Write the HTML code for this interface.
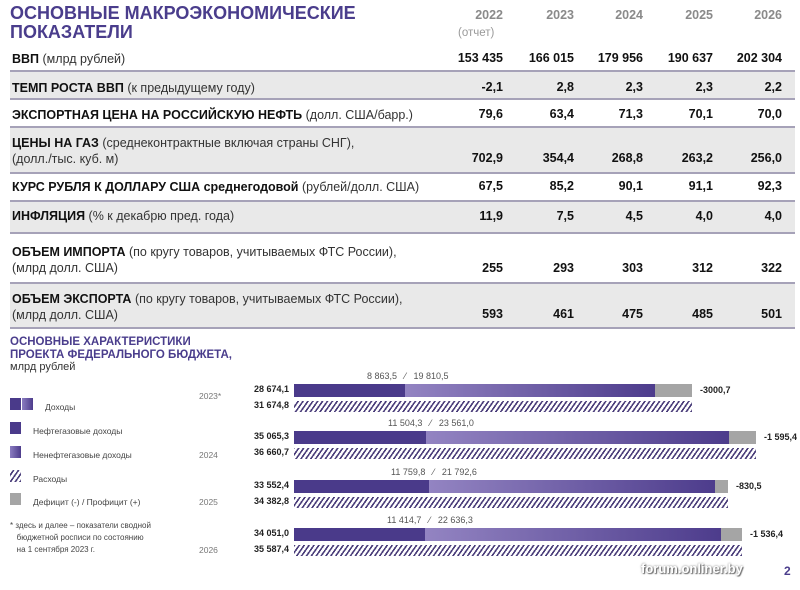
<!DOCTYPE html>
<html><head><meta charset="utf-8"><style>
*{margin:0;padding:0;box-sizing:border-box}
body{width:800px;height:590px;background:#fff;position:relative;overflow:hidden;font-family:"Liberation Sans","DejaVu Sans",sans-serif;color:#222}
.a{position:absolute;white-space:nowrap}
.t{font-weight:bold;color:#4a3d8c}
.row{position:absolute;left:10px;width:785px}
.g{background:#e9e9e9}
.ln{position:absolute;left:10px;width:785px;height:2px;background:#a6a2b8}
.lab{position:absolute;left:12px;font-size:12.5px;line-height:16px;color:#333}
.lab b{color:#111}
.v{position:absolute;font-size:12.5px;font-weight:bold;color:#111;text-align:right;width:60px}
.yr{position:absolute;font-size:12.5px;font-weight:bold;color:#8a8a8a;text-align:right;width:60px}
.bar{position:absolute;height:13px}
.d{background:#4a3a8a}
.l{background:linear-gradient(90deg,#9384c2,#4d3c8c)}
.gr{background:#a5a5a5}
.h{position:absolute;height:11px;background:repeating-linear-gradient(-55deg,#4a3d7a 0 1.6px,#fff 1.6px 4px)}
.bl{position:absolute;font-size:9px;font-weight:bold;color:#222;text-align:right;width:60px}
.tl{position:absolute;font-size:9px;color:#555}
.lg{position:absolute;font-size:8.5px;color:#444}
</style></head><body>
<div class="a t" style="left:10px;top:4px;font-size:18px;line-height:19px">ОСНОВНЫЕ МАКРОЭКОНОМИЧЕСКИЕ<br>ПОКАЗАТЕЛИ</div>
<div class="yr" style="left:443px;top:8px">2022</div>
<div class="a" style="left:458px;top:27px;font-size:11.5px;color:#999">(отчет)</div>
<div class="yr" style="left:514px;top:8px">2023</div>
<div class="yr" style="left:583px;top:8px">2024</div>
<div class="yr" style="left:653px;top:8px">2025</div>
<div class="yr" style="left:722px;top:8px">2026</div>

<div class="row g" style="top:72px;height:27px"></div>
<div class="row g" style="top:128px;height:45px"></div>
<div class="row g" style="top:202px;height:31px"></div>
<div class="row g" style="top:284px;height:44px"></div>
<div class="ln" style="top:70px"></div>
<div class="ln" style="top:98px"></div>
<div class="ln" style="top:126px"></div>
<div class="ln" style="top:172px"></div>
<div class="ln" style="top:200px"></div>
<div class="ln" style="top:232px"></div>
<div class="ln" style="top:282px"></div>
<div class="ln" style="top:327px"></div>

<div class="lab" style="top:51px"><b>ВВП</b> (млрд рублей)</div>
<div class="lab" style="top:80px"><b>ТЕМП РОСТА ВВП</b> (к предыдущему году)</div>
<div class="lab" style="top:107px"><b>ЭКСПОРТНАЯ ЦЕНА НА РОССИЙСКУЮ НЕФТЬ</b> (долл. США/барр.)</div>
<div class="lab" style="top:135px"><b>ЦЕНЫ НА ГАЗ</b> (среднеконтрактные включая страны СНГ),<br>(долл./тыс. куб. м)</div>
<div class="lab" style="top:179px"><b>КУРС РУБЛЯ К ДОЛЛАРУ США среднегодовой</b> (рублей/долл. США)</div>
<div class="lab" style="top:208px"><b>ИНФЛЯЦИЯ</b> (% к декабрю пред. года)</div>
<div class="lab" style="top:244px"><b>ОБЪЕМ ИМПОРТА</b> (по кругу товаров, учитываемых ФТС России),<br>(млрд долл. США)</div>
<div class="lab" style="top:291px"><b>ОБЪЕМ ЭКСПОРТА</b> (по кругу товаров, учитываемых ФТС России),<br>(млрд долл. США)</div>

<div id="vals"></div>
<script>
var rows=[[51,["153 435","166 015","179 956","190 637","202 304"]],[80,["-2,1","2,8","2,3","2,3","2,2"]],[107,["79,6","63,4","71,3","70,1","70,0"]],[151,["702,9","354,4","268,8","263,2","256,0"]],[179,["67,5","85,2","90,1","91,1","92,3"]],[209,["11,9","7,5","4,5","4,0","4,0"]],[261,["255","293","303","312","322"]],[307,["593","461","475","485","501"]]];
var xs=[443,514,583,653,722],h="";
rows.forEach(function(r){r[1].forEach(function(v,i){h+='<div class="v" style="left:'+xs[i]+'px;top:'+r[0]+'px">'+v+'</div>'})});
var bars=[[384,"28 674,1","31 674,8",405,655,692,"-3000,7","8 863,5","19 810,5"],[431,"35 065,3","36 660,7",426,729,756,"-1 595,4","11 504,3","23 561,0"],[480,"33 552,4","34 382,8",429,715,728,"-830,5","11 759,8","21 792,6"],[528,"34 051,0","35 587,4",425,721,742,"-1 536,4","11 414,7","22 636,3"]];
bars.forEach(function(b){var y=b[0];
h+='<div class="bl" style="left:229px;top:'+(y)+'px">'+b[1]+'</div>';
h+='<div class="bl" style="left:229px;top:'+(y+16)+'px">'+b[2]+'</div>';
h+='<div class="bar d" style="left:294px;top:'+y+'px;width:'+(b[3]-294)+'px"></div>';
h+='<div class="bar l" style="left:'+b[3]+'px;top:'+y+'px;width:'+(b[4]-b[3])+'px"></div>';
h+='<div class="bar gr" style="left:'+b[4]+'px;top:'+y+'px;width:'+(b[5]-b[4])+'px"></div>';
h+='<div class="h" style="left:294px;top:'+(y+17)+'px;width:'+(b[5]-294)+'px"></div>';
h+='<div class="a" style="left:'+(b[5]+8)+'px;top:'+(y+1)+'px;font-size:9px;font-weight:bold">'+b[6]+'</div>';
h+='<div class="tl" style="left:'+(b[3]-38)+'px;top:'+(y-13)+'px">'+b[7]+' &nbsp;&nbsp;⁄&nbsp;&nbsp; '+b[8]+'</div>';
});
document.getElementById('vals').innerHTML=h;
</script>

<div class="a t" style="left:10px;top:336px;font-size:11.5px;line-height:13px">ОСНОВНЫЕ ХАРАКТЕРИСТИКИ<br>ПРОЕКТА ФЕДЕРАЛЬНОГО БЮДЖЕТА,</div>
<div class="a" style="left:10px;top:361px;font-size:11px;color:#333">млрд рублей</div>

<div class="a" style="left:10px;top:398px;width:11px;height:12px;background:#4a3a8a"></div>
<div class="a" style="left:22px;top:398px;width:11px;height:12px;background:linear-gradient(90deg,#8a7cc0,#4d3c8c)"></div>
<div class="lg" style="left:45px;top:402px">Доходы</div>
<div class="a" style="left:10px;top:422px;width:11px;height:12px;background:#4a3a8a"></div>
<div class="lg" style="left:33px;top:426px">Нефтегазовые доходы</div>
<div class="a" style="left:10px;top:446px;width:11px;height:12px;background:linear-gradient(90deg,#8a7cc0,#4d3c8c)"></div>
<div class="lg" style="left:33px;top:450px">Ненефтегазовые доходы</div>
<div class="h" style="left:10px;top:470px;width:11px;height:12px"></div>
<div class="lg" style="left:33px;top:474px">Расходы</div>
<div class="a" style="left:10px;top:493px;width:11px;height:12px;background:#a5a5a5"></div>
<div class="lg" style="left:33px;top:497px">Дефицит (-) / Профицит (+)</div>
<div class="lg" style="left:10px;top:520px;line-height:12px;font-size:8px">* здесь и далее – показатели сводной<br>&nbsp;&nbsp;&nbsp;бюджетной росписи по состоянию<br>&nbsp;&nbsp;&nbsp;на 1 сентября 2023 г.</div>
<div class="lg" style="left:199px;top:391px;color:#777">2023*</div>
<div class="lg" style="left:199px;top:450px;color:#777">2024</div>
<div class="lg" style="left:199px;top:497px;color:#777">2025</div>
<div class="lg" style="left:199px;top:545px;color:#777">2026</div>

<div class="a" style="left:641px;top:561px;font-size:13px;font-weight:bold;color:#fff;text-shadow:0 0 2px #777,1px 1px 1px #666">forum.onliner.by</div>
<div class="a t" style="left:784px;top:564px;font-size:12px">2</div>
</body></html>
